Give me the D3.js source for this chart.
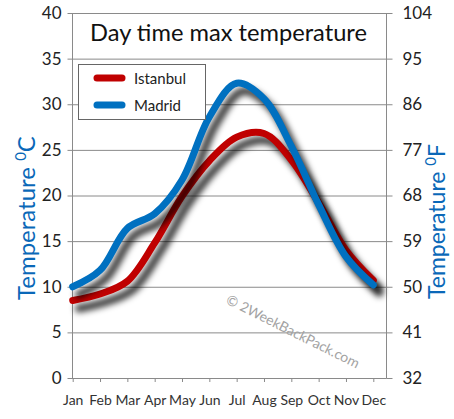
<!DOCTYPE html>
<html><head><meta charset="utf-8">
<script src="https://cdn.jsdelivr.net/npm/d3@7"></script>
<style>body{margin:0;background:#fff}text{font-family:Lato,"DejaVu Sans",sans-serif}</style>
</head><body><svg id="c" width="454" height="419"></svg>
<script>
const months=["Jan","Feb","Mar","Apr","May","Jun","Jul","Aug","Sep","Oct","Nov","Dec"];
const istanbul=[8.5,9.2,10.6,14.8,19.9,23.8,26.4,26.8,23.9,19.2,14.0,10.7];
const madrid=[10.0,11.8,16.4,18.0,21.7,28.6,32.3,30.6,25.4,19.0,13.3,10.2];
const cTicks=[0,5,10,15,20,25,30,35,40];
const fTicks=[32,41,50,59,68,77,86,95,104];
const seriesNames=["Istanbul","Madrid"];
const colors=["#c00000","#0070c0"];

const svg=d3.select("#c");
const L=72.5,R=386.5,T=13,B=378;
const x=d3.scalePoint().domain(months).range([72.7,373.3]);
const y=d3.scaleLinear().domain([0,40]).range([B,T]);
const yF=d3.scaleLinear().domain([32,104]).range([B,T]);

const defs=svg.append("defs");
defs.append("filter").attr("id","blur").attr("x","-20%").attr("y","-20%").attr("width","140%").attr("height","140%")
  .append("feGaussianBlur").attr("stdDeviation",3);

// grid + left axis
const gl=svg.append("g").attr("transform",`translate(${R},0)`)
  .call(d3.axisLeft(y).tickValues(cTicks).tickSize(R-67.5).tickPadding(6));
gl.select(".domain").remove();
gl.selectAll("line").attr("stroke","#8a8a8a");
gl.selectAll("text").attr("fill","#222").style("font-size","17px");

const gr=svg.append("g").attr("transform",`translate(${R},0)`)
  .call(d3.axisRight(yF).tickValues(fTicks).tickSize(6).tickPadding(10));
gr.select(".domain").remove();
gr.selectAll("line").attr("stroke","#8a8a8a");
gr.selectAll("text").attr("fill","#222").style("font-size","17px");

const gx=svg.append("g").attr("transform",`translate(0,${B})`)
  .call(d3.axisBottom(x).tickSize(4).tickPadding(13));
gx.select(".domain").remove();
gx.selectAll("line").attr("stroke","#8a8a8a");
gx.selectAll("text").attr("fill","#333").style("font-size","14px");

// frame
svg.append("line").attr("x1",L).attr("x2",L).attr("y1",T).attr("y2",B).attr("stroke","#8a8a8a");
svg.append("line").attr("x1",R).attr("x2",R).attr("y1",T).attr("y2",B).attr("stroke","#8a8a8a");
svg.append("line").attr("x1",L).attr("x2",R).attr("y1",B+0.5).attr("y2",B+0.5).attr("stroke","#8a8a8a");

// watermark
svg.append("text").attr("transform","translate(225,303) rotate(26.5)")
  .attr("fill","#a3a3a3").style("font-size","14px")
  .text("© 2WeekBackPack.com");

// lines
const line=d3.line().x((d,i)=>x(months[i])).y(d=>y(d)).curve(d3.curveCatmullRom.alpha(0.5));
[istanbul,madrid].forEach((s,k)=>{
  svg.append("path").attr("d",line(s)).attr("fill","none").attr("stroke","#000")
    .attr("stroke-opacity",0.8).attr("stroke-width",7.5).attr("stroke-linecap","round")
    .attr("transform","translate(6,8)").attr("filter","url(#blur)");
  svg.append("path").attr("d",line(s)).attr("fill","none").attr("stroke",colors[k])
    .attr("stroke-width",7).attr("stroke-linecap","round");
});

// legend
svg.append("rect").attr("x",78.5).attr("y",64.5).attr("width",127).attr("height",55)
  .attr("fill","#fff").attr("stroke","#666");
seriesNames.forEach((n,k)=>{
  const yy=78+k*27;
  svg.append("line").attr("x1",97).attr("x2",122).attr("y1",yy).attr("y2",yy)
    .attr("stroke",colors[k]).attr("stroke-width",7).attr("stroke-linecap","round");
  svg.append("text").attr("x",134).attr("y",yy+5.5).attr("fill","#222").style("font-size","15px").text(n);
});

// title
svg.append("text").attr("x",228.5).attr("y",41).attr("text-anchor","middle").attr("fill","#111")
  .style("font-size","24px").attr("textLength",277).attr("lengthAdjust","spacingAndGlyphs")
  .text("Day time max temperature");

// axis titles
const lt=svg.append("text").attr("transform","translate(35,300) rotate(-90)")
  .attr("fill","#0a68b8").style("font-size","24px");
lt.append("tspan").text("Temperature ");
lt.append("tspan").attr("dy",-9).style("font-size","15px").text("0");
lt.append("tspan").attr("dy",9).text("C");

const rt=svg.append("text").attr("transform","translate(445,299) rotate(-90)")
  .attr("fill","#0a68b8").style("font-size","23px");
rt.append("tspan").text("Temperature ");
rt.append("tspan").attr("dy",-9).style("font-size","15px").text("0");
rt.append("tspan").attr("dy",9).text("F");
</script></body></html>
